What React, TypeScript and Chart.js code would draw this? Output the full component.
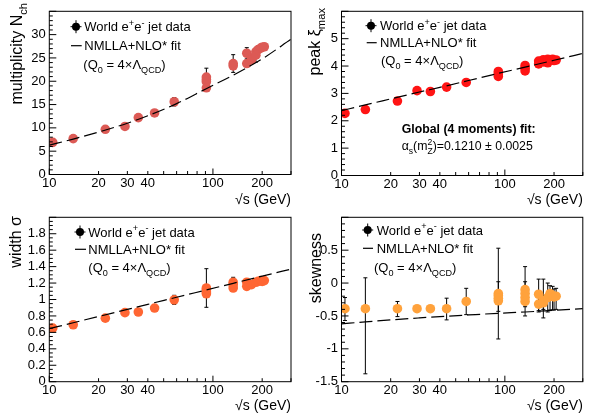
import React, { useEffect, useRef } from "react";
import { Chart, registerables } from "chart.js";

Chart.register(...registerables);

const FONT = "'Liberation Sans', Arimo, Arial, sans-serif";

// ---------- shared x axis ----------
const X_MIN = 10;
const X_MAX = 300;
const X_TICKS = [10, 20, 30, 40, 50, 60, 70, 80, 90, 100, 200, 300];
const X_LABELS = [10, 20, 30, 40, 100, 200];

// energies where the fit curve was read
const FIT_E = [10, 14, 20, 30, 40, 60, 91, 133, 200, 300];

// ---------- multiplicity ----------
const MUL_E = [10.5, 14, 22, 29, 35, 44, 58, 91.2, 91.2, 91.2, 91.2, 133, 133, 161, 161, 172, 172, 183, 183, 189, 196, 200, 206];
const MUL_V = [6.9, 7.7, 9.7, 10.3, 12.2, 13.2, 15.6, 20.9, 20.4, 19.9, 18.6, 23.8, 23.3, 26.0, 23.8, 25.0, 24.6, 26.3, 25.6, 26.8, 27.1, 27.3, 27.4];
const MUL_ERR = [0.2, 0.2, 0.2, 0.2, 0.2, 0.2, 0.9, 1.9, 0.3, 0.3, 0.3, 1.9, 0.3, 1.2, 0.3, 0.3, 0.3, 0.3, 1.5, 0.3, 0.3, 0.3, 0.3];
const MUL_FIT = [6.3, 7.6, 9.1, 11.0, 12.6, 15.2, 18.4, 21.3, 24.8, 29.0];
const MUL_Y_TICKS = [0, 5, 10, 15, 20, 25, 30];

// ---------- peak position ----------
const PEAK_E = [10.5, 14, 22, 29, 35, 44, 58, 91.2, 91.2, 91.2, 133, 133, 133, 161, 161, 172, 172, 183, 183, 189, 196, 200, 206];
const PEAK_V = [2.27, 2.41, 2.72, 3.1, 3.07, 3.23, 3.4, 3.8, 3.71, 3.62, 4.02, 3.92, 3.82, 4.18, 4.08, 4.23, 4.15, 4.25, 4.12, 4.22, 4.25, 4.2, 4.22];
const PEAK_ERR = [0.04, 0.04, 0.04, 0.04, 0.04, 0.04, 0.04, 0.04, 0.04, 0.04, 0.04, 0.04, 0.04, 0.04, 0.04, 0.04, 0.04, 0.04, 0.04, 0.04, 0.04, 0.04, 0.04];
const PEAK_FIT = [2.37, 2.58, 2.8, 3.05, 3.22, 3.47, 3.73, 3.96, 4.21, 4.46];
const PEAK_Y_TICKS = [0, 1, 2, 3, 4, 5];

// ---------- width ----------
const WID_E = [10.5, 14, 22, 29, 35, 44, 58, 91.2, 91.2, 91.2, 91.2, 133, 133, 133, 161, 161, 172, 183, 189, 196, 200, 206];
const WID_V = [0.653, 0.693, 0.773, 0.84, 0.848, 0.896, 0.996, 1.14, 1.12, 1.09, 1.07, 1.21, 1.18, 1.14, 1.21, 1.16, 1.18, 1.21, 1.22, 1.23, 1.22, 1.23];
const WID_ERR = [0.01, 0.01, 0.01, 0.01, 0.01, 0.01, 0.055, 0.235, 0.02, 0.02, 0.02, 0.06, 0.02, 0.02, 0.03, 0.02, 0.02, 0.02, 0.02, 0.02, 0.02, 0.02];
const WID_FIT = [0.645, 0.717, 0.793, 0.879, 0.941, 1.027, 1.116, 1.197, 1.284, 1.37];
const WID_Y_TICKS = [0, 0.2, 0.4, 0.6, 0.8, 1, 1.2, 1.4, 1.6, 1.8];

// ---------- skewness ----------
const SKW_E = [10.5, 14, 22, 29, 35, 44, 58, 91.2, 91.2, 91.2, 91.2, 133, 133, 133, 133, 161, 161, 172, 172, 183, 189, 196, 200, 206];
const SKW_V = [-0.39, -0.39, -0.39, -0.39, -0.39, -0.39, -0.28, -0.16, -0.19, -0.23, -0.27, -0.1, -0.16, -0.22, -0.28, -0.17, -0.32, -0.27, -0.3, -0.22, -0.16, -0.19, -0.21, -0.2];
const SKW_ERR_HI = [0.17, 0.47, 0.11, 0, 0, 0.16, 0.2, 0.69, 0.21, 0.05, 0.05, 0.35, 0.18, 0.05, 0.05, 0.23, 0.05, 0.33, 0.05, 0.22, 0.12, 0.14, 0.12, 0.12];
const SKW_ERR_LO = [0.18, 0.99, 0.12, 0, 0, 0.17, 0.2, 0.69, 0.24, 0.05, 0.05, 0.4, 0.2, 0.05, 0.05, 0.27, 0.1, 0.26, 0.1, 0.22, 0.25, 0.22, 0.2, 0.2];
const SKW_FIT = [-0.62, -0.59, -0.56, -0.53, -0.51, -0.485, -0.46, -0.44, -0.415, -0.39];
const SKW_Y_TICKS = [-1.5, -1, -0.5, 0, 0.5];

// ---------- text ----------
type Seg = { t: string; k?: "sub" | "sup" | "stack"; t2?: string; bold?: boolean };

const LEG1: Seg[] = [{ t: "World e" }, { t: "+", k: "sup" }, { t: "e" }, { t: "-", k: "sup" }, { t: " jet data" }];
const LEG2: Seg[] = [{ t: "NMLLA+NLO* fit" }];
const LEG3: Seg[] = [{ t: "(Q" }, { t: "0", k: "sub" }, { t: " = 4×Λ" }, { t: "QCD", k: "sub" }, { t: ")" }];
const X_TITLE: Seg[] = [{ t: "√s (GeV)" }];
const GLOBAL1: Seg[] = [{ t: "Global (4 moments) fit:", bold: true }];
const GLOBAL2: Seg[] = [{ t: "α" }, { t: "s", k: "sub" }, { t: "(m" }, { t: "2", k: "stack", t2: "Z" }, { t: ")=0.1210 ± 0.0025" }];

function fontStr(size: number, bold?: boolean) {
  return `${bold ? "bold " : ""}${size}px ${FONT}`;
}

function richWidth(ctx: CanvasRenderingContext2D, segs: Seg[], size: number) {
  let w = 0;
  for (const s of segs) {
    if (s.k === "stack") {
      ctx.font = fontStr(size * 0.7, s.bold);
      w += Math.max(ctx.measureText(s.t).width, ctx.measureText(s.t2 || "").width);
    } else if (s.k) {
      ctx.font = fontStr(size * 0.7, s.bold);
      w += ctx.measureText(s.t).width;
    } else {
      ctx.font = fontStr(size, s.bold);
      w += ctx.measureText(s.t).width;
    }
  }
  return w;
}

function drawRich(ctx: CanvasRenderingContext2D, segs: Seg[], x: number, y: number, size: number) {
  let cx = x;
  ctx.textAlign = "left";
  ctx.textBaseline = "alphabetic";
  ctx.fillStyle = "#000";
  for (const s of segs) {
    if (s.k === "stack") {
      ctx.font = fontStr(size * 0.7, s.bold);
      ctx.fillText(s.t, cx, y - size * 0.45);
      ctx.fillText(s.t2 || "", cx, y + size * 0.3);
      cx += Math.max(ctx.measureText(s.t).width, ctx.measureText(s.t2 || "").width);
    } else if (s.k === "sub" || s.k === "sup") {
      ctx.font = fontStr(size * 0.7, s.bold);
      ctx.fillText(s.t, cx, y + (s.k === "sub" ? size * 0.3 : -size * 0.42));
      cx += ctx.measureText(s.t).width;
    } else {
      ctx.font = fontStr(size, s.bold);
      ctx.fillText(s.t, cx, y);
      cx += ctx.measureText(s.t).width;
    }
  }
}

type Panel = {
  left: number; top: number; w: number; h: number;
  area: { l: number; r: number; t: number; b: number };
  yMin: number; yMax: number; yTicks: number[]; minor: number;
  color: string;
  E: number[]; V: number[]; eHi: number[]; eLo: number[]; fit: number[];
  yTitle: Seg[]; yTitleX: number; yTitleEnd: number;
  leg: { mx: number; y1: number; y2: number; y3: number; tx: number; lx1: number; lx2: number; tx3: number };
  extra?: boolean;
};

const PANELS: Panel[] = [
  {
    left: 0, top: 0, w: 300, h: 210,
    area: { l: 49.3, r: 291, t: 8, b: 174.5 },
    yMin: 0, yMax: 35, yTicks: MUL_Y_TICKS, minor: 5, color: "#dc5a55",
    E: MUL_E, V: MUL_V, eHi: MUL_ERR, eLo: MUL_ERR, fit: MUL_FIT,
    yTitle: [{ t: "multiplicity N" }, { t: "ch", k: "sub" }], yTitleX: 22, yTitleEnd: 3,
    leg: { mx: 76, y1: 26.7, y2: 45.7, y3: 64.3, tx: 84.3, lx1: 71, lx2: 81.7, tx3: 83.3 },
  },
  {
    left: 300, top: 0, w: 303, h: 210,
    area: { l: 41.5, r: 282.8, t: 8, b: 175.5 },
    yMin: 0, yMax: 6, yTicks: PEAK_Y_TICKS, minor: 5, color: "#ff1414",
    E: PEAK_E, V: PEAK_V, eHi: PEAK_ERR, eLo: PEAK_ERR, fit: PEAK_FIT,
    yTitle: [{ t: "peak ξ" }, { t: "max", k: "sub" }], yTitleX: 20, yTitleEnd: 8,
    leg: { mx: 71, y1: 25.7, y2: 42.7, y3: 60, tx: 80, lx1: 66.7, lx2: 76.7, tx3: 81 },
    extra: true,
  },
  {
    left: 0, top: 206, w: 300, h: 207,
    area: { l: 49.3, r: 291, t: 8.3, b: 175.7 },
    yMin: 0, yMax: 2, yTicks: WID_Y_TICKS, minor: 4, color: "#ff6633",
    E: WID_E, V: WID_V, eHi: WID_ERR, eLo: WID_ERR, fit: WID_FIT,
    yTitle: [{ t: "width σ" }], yTitleX: 21, yTitleEnd: 10,
    leg: { mx: 80, y1: 26, y2: 43.3, y3: 61, tx: 88.3, lx1: 75, lx2: 86, tx3: 88.3 },
  },
  {
    left: 300, top: 206, w: 303, h: 207,
    area: { l: 41.5, r: 282.8, t: 8.2, b: 175.7 },
    yMin: -1.5, yMax: 1, yTicks: SKW_Y_TICKS, minor: 5, color: "#ffa23c",
    E: SKW_E, V: SKW_V, eHi: SKW_ERR_HI, eLo: SKW_ERR_LO, fit: SKW_FIT,
    yTitle: [{ t: "skewness" }], yTitleX: 21, yTitleEnd: 27,
    leg: { mx: 67.7, y1: 24, y2: 42.3, y3: 61, tx: 76.7, lx1: 63, lx2: 73, tx3: 74 },
  },
];

const TICK_FONT = 13;
const LEG_FONT = 13;
const TITLE_FONT = 16;
const XTITLE_FONT = 14;

function seg(ctx: CanvasRenderingContext2D, x1: number, y1: number, x2: number, y2: number) {
  ctx.beginPath();
  ctx.moveTo(x1, y1);
  ctx.lineTo(x2, y2);
  ctx.stroke();
}

function makeChart(canvas: HTMLCanvasElement, p: Panel) {
  const decor = {
    id: "decor",
    beforeDatasetsDraw(chart: any) {
      const { ctx, chartArea: a, scales } = chart;
      const x = scales.x, y = scales.y;
      ctx.save();
      ctx.beginPath();
      ctx.rect(a.left, a.top, a.right - a.left, a.bottom - a.top);
      ctx.clip();
      ctx.strokeStyle = "#000";
      ctx.lineWidth = 1;
      p.E.forEach((e, i) => {
        const hi = p.eHi[i], lo = p.eLo[i];
        if (!hi && !lo) return;
        const px = x.getPixelForValue(e);
        const y1 = y.getPixelForValue(p.V[i] + hi);
        const y2 = y.getPixelForValue(p.V[i] - lo);
        seg(ctx, px, y1, px, y2);
        seg(ctx, px - 2, y1, px + 2, y1);
        seg(ctx, px - 2, y2, px + 2, y2);
      });
      ctx.restore();
    },
    afterDraw(chart: any) {
      const { ctx, chartArea: a, scales } = chart;
      const x = scales.x, y = scales.y;
      ctx.save();
      ctx.strokeStyle = "#000";
      ctx.lineWidth = 1;
      ctx.strokeRect(a.left, a.top, a.right - a.left, a.bottom - a.top);
      // x ticks (inward)
      for (const v of X_TICKS) {
        const px = x.getPixelForValue(v);
        const len = v === 10 || v === 100 ? 6 : 3.5;
        seg(ctx, px, a.bottom, px, a.bottom - len);
      }
      // y ticks (inward), major + minor
      const step = p.yTicks[1] - p.yTicks[0];
      const ms = step / p.minor;
      for (let v = p.yMin; v <= p.yMax + 1e-9; v += ms) {
        const k = Math.round((v - p.yTicks[0]) / ms);
        const major = k % p.minor === 0;
        const py = y.getPixelForValue(v);
        seg(ctx, a.left, py, a.left + (major ? 7 : 3.5), py);
      }
      // y title
      ctx.save();
      ctx.translate(p.yTitleX, p.yTitleEnd);
      ctx.rotate(-Math.PI / 2);
      const tw = richWidth(ctx, p.yTitle, TITLE_FONT);
      drawRich(ctx, p.yTitle, -tw, 0, TITLE_FONT);
      ctx.restore();
      // x title
      const xw = richWidth(ctx, X_TITLE, XTITLE_FONT);
      drawRich(ctx, X_TITLE, a.right - xw, 203.5, XTITLE_FONT);
      // legend
      const L = p.leg;
      const off = LEG_FONT * 0.36;
      ctx.fillStyle = "#000";
      ctx.beginPath();
      ctx.arc(L.mx, L.y1, 4, 0, Math.PI * 2);
      ctx.fill();
      seg(ctx, L.mx, L.y1 - 6.5, L.mx, L.y1 + 6.5);
      seg(ctx, L.mx - 5.5, L.y1, L.mx + 5.5, L.y1);
      drawRich(ctx, LEG1, L.tx, L.y1 + off, LEG_FONT);
      ctx.lineWidth = 1.2;
      seg(ctx, L.lx1, L.y2, L.lx2, L.y2);
      drawRich(ctx, LEG2, L.tx, L.y2 + off, LEG_FONT);
      drawRich(ctx, LEG3, L.tx3, L.y3 + off, LEG_FONT);
      if (p.extra) {
        drawRich(ctx, GLOBAL1, 101.7, 132.5, 12.3);
        drawRich(ctx, GLOBAL2, 101.7, 150.2, 12.3);
      }
      ctx.restore();
    },
  };

  const a = p.area;
  return new Chart(canvas, {
    type: "scatter",
    data: {
      datasets: [
        {
          type: "line",
          data: FIT_E.map((e, i) => ({ x: e, y: p.fit[i] })),
          borderColor: "#000",
          borderWidth: 1.2,
          borderDash: [13, 5],
          pointRadius: 0,
          fill: false,
          cubicInterpolationMode: "monotone",
        } as any,
        {
          data: p.E.map((e, i) => ({ x: e, y: p.V[i] })),
          pointRadius: 4.8,
          pointBackgroundColor: p.color,
          backgroundColor: p.color,
          borderColor: p.color,
          pointBorderWidth: 0,
        },
      ],
    },
    options: {
      animation: false,
      responsive: false,
      devicePixelRatio: 1,
      events: [],
      layout: { padding: { left: 0, top: a.t, right: p.w - a.r, bottom: 0 } },
      plugins: { legend: { display: false }, tooltip: { enabled: false } },
      scales: {
        x: {
          type: "logarithmic",
          min: X_MIN,
          max: X_MAX,
          bounds: "data",
          afterBuildTicks: (s: any) => {
            s.ticks = X_TICKS.map((v) => ({ value: v }));
          },
          afterFit: (s: any) => {
            s.height = p.h - a.b;
          },
          ticks: {
            autoSkip: false,
            maxRotation: 0,
            padding: 1,
            color: "#000",
            font: { family: FONT, size: TICK_FONT },
            callback: (v: any) => (X_LABELS.includes(Number(v)) ? String(v) : ""),
          },
          grid: { display: false, drawTicks: false },
          border: { display: false },
        },
        y: {
          type: "linear",
          min: p.yMin,
          max: p.yMax,
          bounds: "data",
          afterBuildTicks: (s: any) => {
            s.ticks = p.yTicks.map((v) => ({ value: v }));
          },
          afterFit: (s: any) => {
            s.width = a.l;
          },
          ticks: {
            autoSkip: false,
            padding: 3.5,
            color: "#000",
            font: { family: FONT, size: TICK_FONT },
            callback: (v: any) => String(Math.round(Number(v) * 100) / 100),
          },
          grid: { display: false, drawTicks: false },
          border: { display: false },
        },
      },
    } as any,
    plugins: [decor],
  });
}

export default function App() {
  const r0 = useRef<HTMLCanvasElement>(null);
  const r1 = useRef<HTMLCanvasElement>(null);
  const r2 = useRef<HTMLCanvasElement>(null);
  const r3 = useRef<HTMLCanvasElement>(null);
  const refs = [r0, r1, r2, r3];

  useEffect(() => {
    const charts = PANELS.map((p, i) => makeChart(refs[i].current as HTMLCanvasElement, p));
    return () => charts.forEach((c) => c.destroy());
  }, []);

  return (
    <div style={{ position: "fixed", left: 0, top: 0, width: 603, height: 413, background: "#fff", overflow: "hidden" }}>
      {PANELS.map((p, i) => (
        <canvas
          key={i}
          ref={refs[i]}
          width={p.w}
          height={p.h}
          style={{ position: "absolute", left: p.left, top: p.top, width: p.w, height: p.h }}
        />
      ))}
    </div>
  );
}
